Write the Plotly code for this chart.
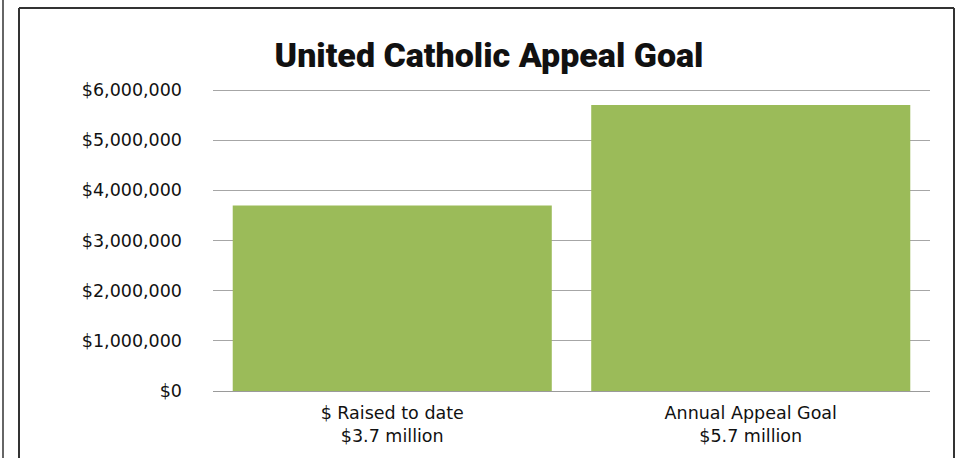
import plotly.graph_objects as go

categories = ["$ Raised to date<br>$3.7 million", "Annual Appeal Goal<br>$5.7 million"]
values = [3700000, 5700000]
tick_vals = [0, 1000000, 2000000, 3000000, 4000000, 5000000, 6000000]
tick_text = ["$0", "$1,000,000", "$2,000,000", "$3,000,000", "$4,000,000", "$5,000,000", "$6,000,000"]
title_text = "United Catholic Appeal Goal"

W, H = 966, 458
L, R, T, B = 213, 930, 87, 391

def px(x):
    return (x - L) / (R - L)

def py(y):
    return (B - y) / (B - T)

label_font = dict(family="DejaVu Sans", size=17.5, color="#111111")

fig = go.Figure(go.Bar(x=categories, y=values, marker=dict(color="#9BBB59", line=dict(width=0))))

shapes = []
line_style = dict(color="#333333", width=2)
shapes.append(dict(type="line", xref="paper", yref="paper", x0=px(19), x1=px(19), y0=py(8), y1=py(470), line=line_style))
shapes.append(dict(type="line", xref="paper", yref="paper", x0=px(19), x1=px(954), y0=py(8), y1=py(8), line=line_style))
shapes.append(dict(type="line", xref="paper", yref="paper", x0=px(954), x1=px(954), y0=py(8), y1=py(470), line=line_style))
shapes.append(dict(type="line", xref="paper", yref="paper", x0=px(3), x1=px(3), y0=py(0), y1=py(470), line=dict(color="#333333", width=1.5)))

fig.update_layout(
    width=W, height=H,
    margin=dict(l=L, r=W - R, t=T, b=H - B, pad=0),
    paper_bgcolor="white", plot_bgcolor="white",
    bargap=0.11,
    showlegend=False,
    shapes=shapes,
    title=dict(text=title_text, x=489 / W, xanchor="center", y=1 - 55 / H, yanchor="middle",
               font=dict(family="Roboto", size=34, color="#111111", weight=900)),
    xaxis=dict(showgrid=False, showline=True, linecolor="#9a9a9a", linewidth=1, ticks="",
               ticklabelstandoff=6, tickfont=label_font, fixedrange=True),
    yaxis=dict(range=[0, 6060000], tickvals=tick_vals, ticktext=tick_text,
               showgrid=True, gridcolor="#a6a6a6", gridwidth=1, zeroline=False, showline=False,
               ticklabelstandoff=30, tickfont=label_font, fixedrange=True),
)
fig.write_html("out.html", config={"displayModeBar": False},
               post_script="document.body.style.margin='0';document.body.style.padding='0';")
